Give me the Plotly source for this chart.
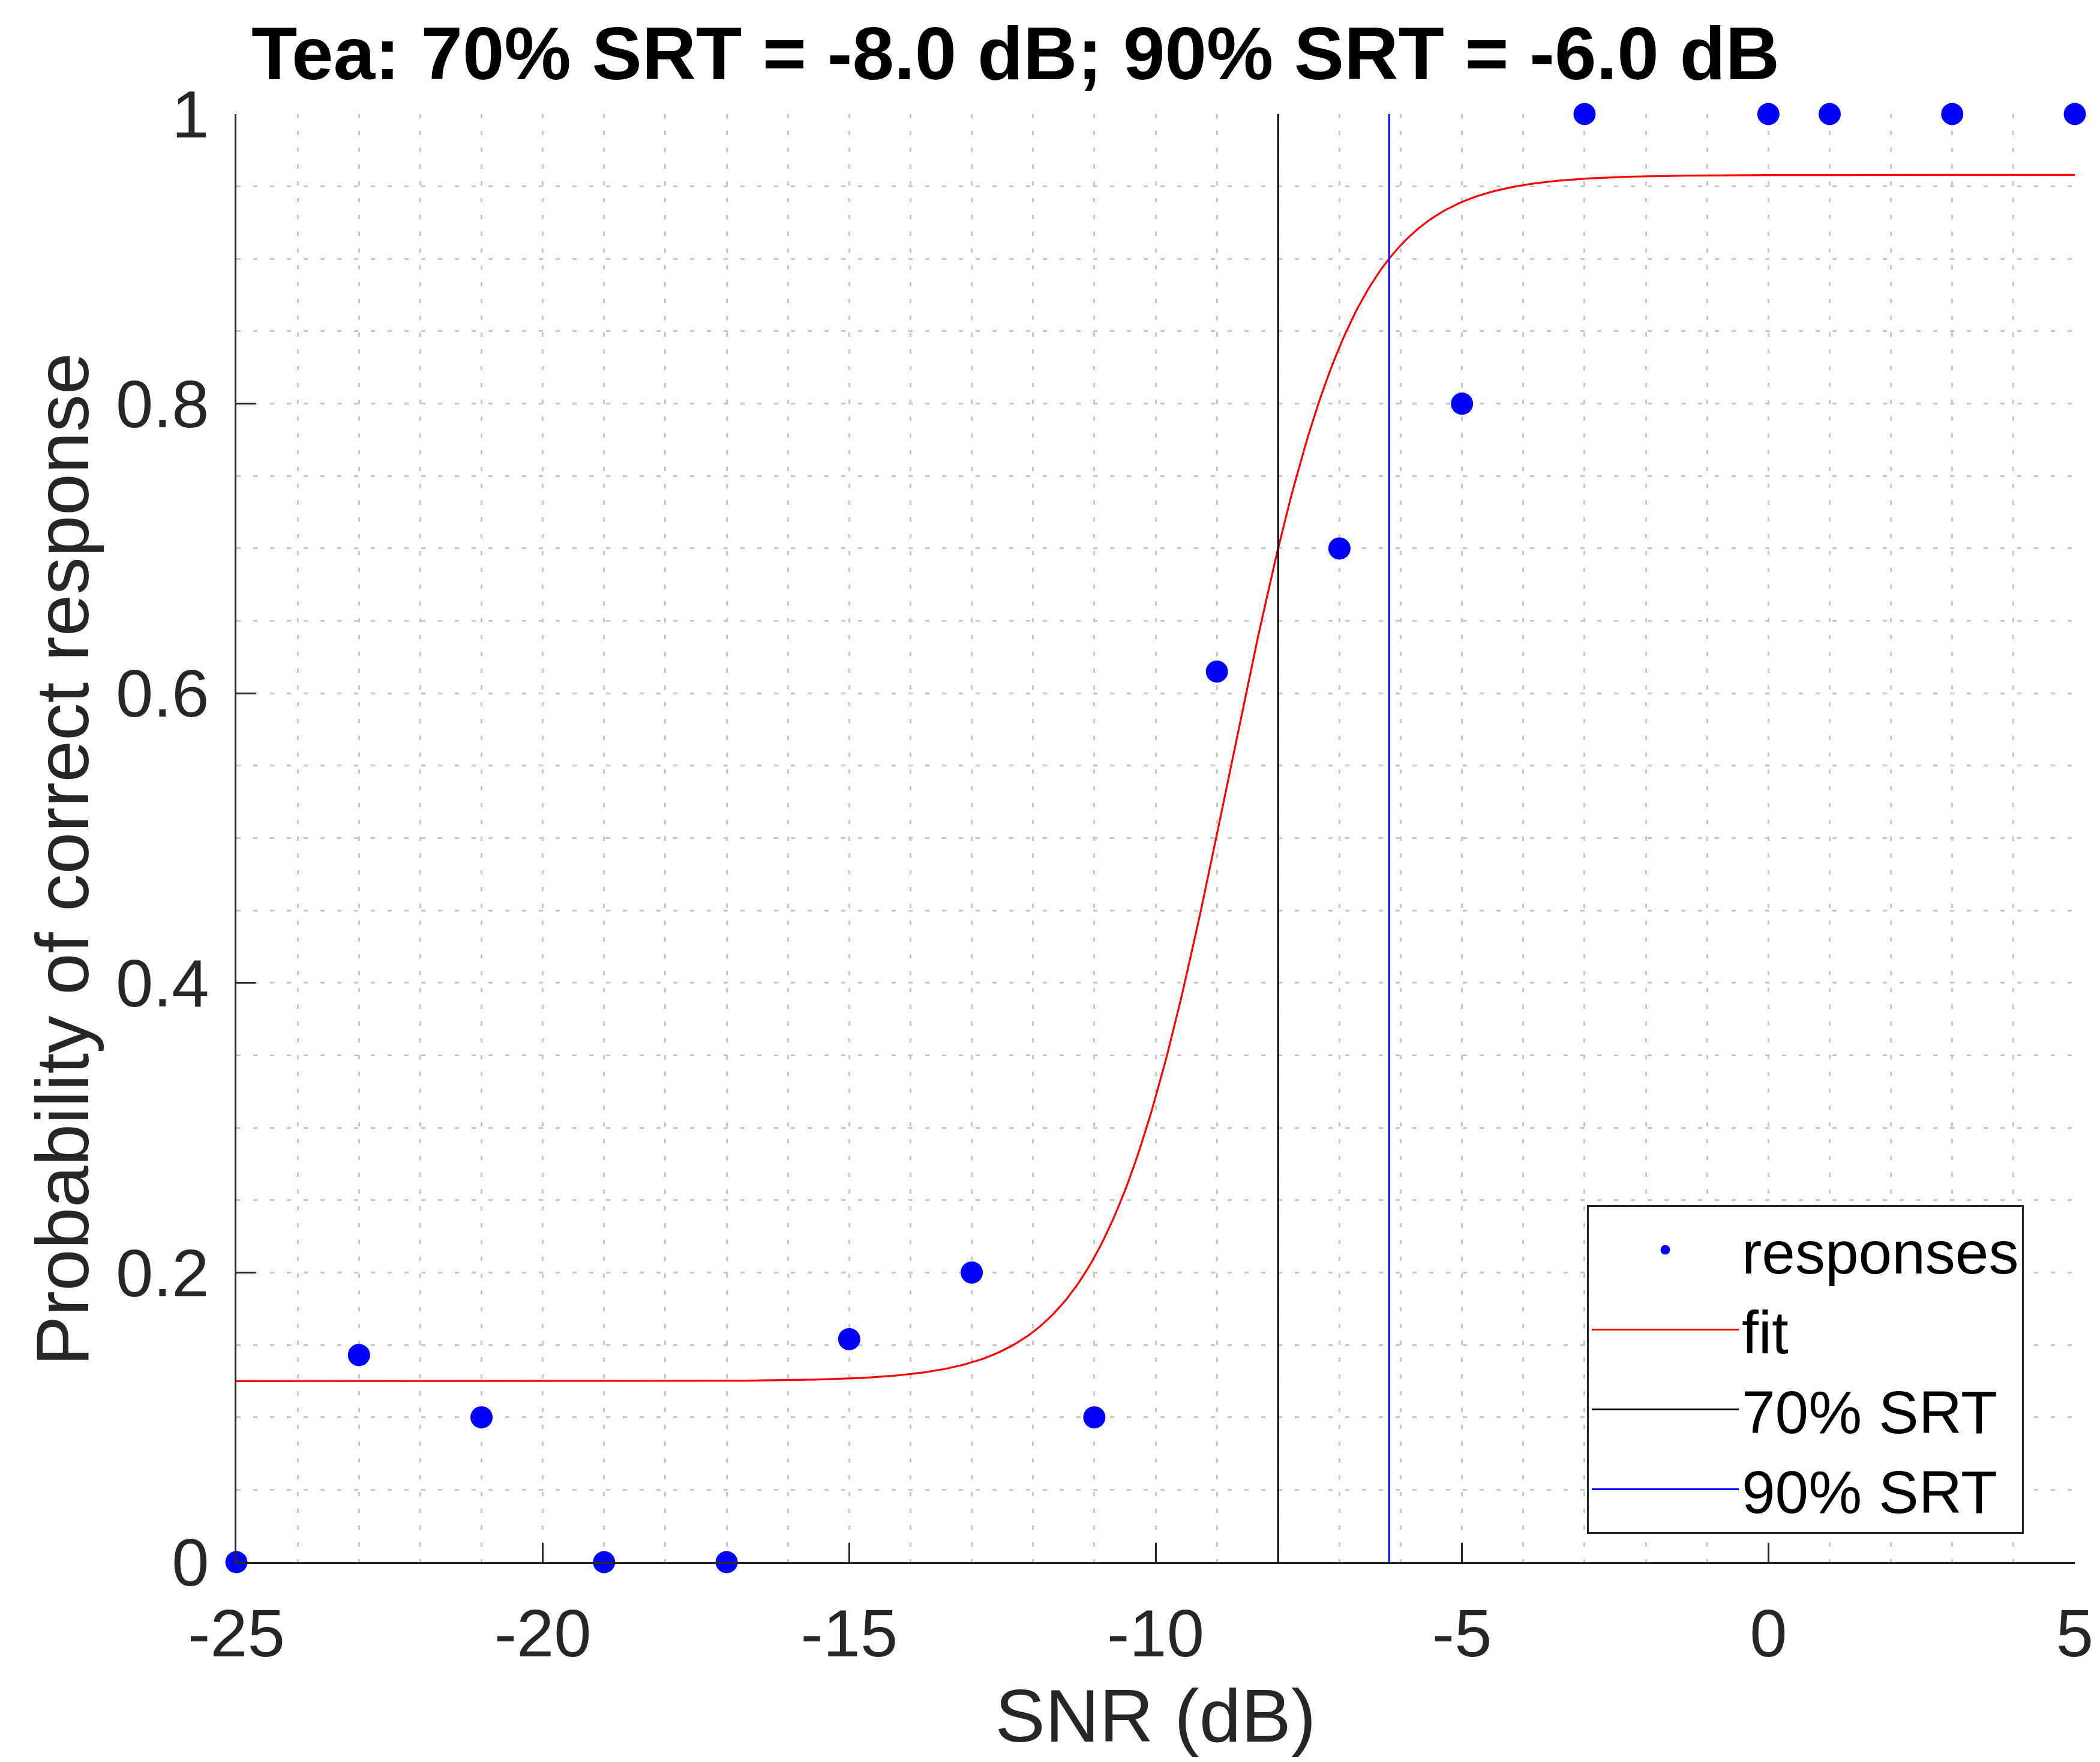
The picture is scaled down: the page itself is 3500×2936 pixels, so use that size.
import numpy as np
import plotly.graph_objects as go

# ---- data ----
snr_db = [-25, -23, -21, -19, -17, -15, -13, -11, -9, -7, -5, -3, 0, 1, 3, 5]
p_correct = [0.0, 0.143, 0.1, 0.0, 0.0, 0.154, 0.2, 0.1, 0.615, 0.7, 0.8,
             1.0, 1.0, 1.0, 1.0, 1.0]

# logistic fit parameters
fit_floor = 0.125
fit_ceiling = 0.958
fit_mid = -8.81
fit_slope = 0.99

srt70 = -8.0
srt90 = -6.19

x_range = [-25, 5]
y_range = [0, 1]
x_ticks = [-25, -20, -15, -10, -5, 0, 5]
x_tick_labels = ["-25", "-20", "-15", "-10", "-5", "0", "5"]
y_ticks = [0, 0.2, 0.4, 0.6, 0.8, 1]
y_tick_labels = ["0", "0.2", "0.4", "0.6", "0.8", "1"]

title_text = "Tea: 70% SRT = -8.0 dB; 90% SRT = -6.0 dB"
x_title = "SNR (dB)"
y_title = "Probability of correct response"
legend_names = ["responses", "fit", "70% SRT", "90% SRT"]

# ---- fit curve from the fitted parameters ----
fit_x = np.linspace(x_range[0], x_range[1], 601)
fit_y = fit_floor + (fit_ceiling - fit_floor) / (1 + np.exp(-fit_slope * (fit_x - fit_mid)))

FONT = "Liberation Sans, Arial, Helvetica, sans-serif"
AX = "#262626"
GRID = "#c8c8c8"

# page body has an 8px margin; figure sized to fit the window exactly
W, H = 3484, 2920
ML, MR, MT, MB = 386, 34, 182, 325
PW = W - ML - MR
PH = H - MT - MB

fig = go.Figure()
fig.add_trace(go.Scatter(x=snr_db, y=p_correct, mode="markers", name=legend_names[0],
                         marker=dict(color="#0000ff", size=37, line=dict(width=0)),
                         cliponaxis=False))
fig.add_trace(go.Scatter(x=fit_x, y=fit_y, mode="lines", name=legend_names[1],
                         line=dict(color="#ff0000", width=3.2)))
fig.add_trace(go.Scatter(x=[srt70, srt70], y=y_range, mode="lines", name=legend_names[2],
                         line=dict(color="#000000", width=3)))
fig.add_trace(go.Scatter(x=[srt90, srt90], y=y_range, mode="lines", name=legend_names[3],
                         line=dict(color="#0000ff", width=3)))

grid_common = dict(showgrid=True, gridcolor=GRID, gridwidth=3, griddash="7px,21px")

fig.update_layout(
    width=W, height=H,
    margin=dict(l=ML, r=MR, t=MT, b=MB, autoexpand=False),
    plot_bgcolor="white", paper_bgcolor="white",
    font=dict(family=FONT, color=AX),
    title=dict(text=title_text, x=411 / W, xref="container", xanchor="left",
               y=1 - 80 / H, yref="container", yanchor="middle",
               font=dict(family=FONT, size=125, color="black", weight="bold")),
    xaxis=dict(range=x_range, tickmode="array", tickvals=x_ticks, ticktext=x_tick_labels,
               showline=True, linecolor=AX, linewidth=3, mirror=False,
               ticks="inside", ticklen=32, tickwidth=3, tickcolor=AX,
               zeroline=False, tickfont=dict(size=112, color=AX, family=FONT),
               ticklabelstandoff=20, ticklabeloverflow="allow", automargin=False,
               minor=dict(dtick=1, tick0=-25, ticks="", **grid_common),
               title=dict(text=x_title, font=dict(size=125, color=AX, family=FONT), standoff=48),
               **grid_common),
    yaxis=dict(range=y_range, tickmode="array", tickvals=y_ticks, ticktext=y_tick_labels,
               showline=True, linecolor=AX, linewidth=3, mirror=False,
               ticks="inside", ticklen=32, tickwidth=3, tickcolor=AX,
               zeroline=False, tickfont=dict(size=112, color=AX, family=FONT),
               ticklabelstandoff=20, ticklabeloverflow="allow", automargin=False,
               minor=dict(dtick=0.05, tick0=0, ticks="", **grid_common),
               **grid_common),
    annotations=[dict(text=y_title, xref="paper", yref="paper",
                      x=(95 - ML) / PW, y=(2595 - 1424) / PH,
                      xanchor="center", yanchor="middle", textangle=-90, showarrow=False,
                      font=dict(size=125, color=AX, family=FONT))],
    legend=dict(x=(2637 - ML) / PW, y=(2595 - 2000) / PH, xanchor="left", yanchor="top",
                bordercolor=AX, borderwidth=3, bgcolor="white",
                font=dict(size=100, color="black", family=FONT),
                itemwidth=245, tracegroupgap=0),
)

fig.write_html("out.html")
